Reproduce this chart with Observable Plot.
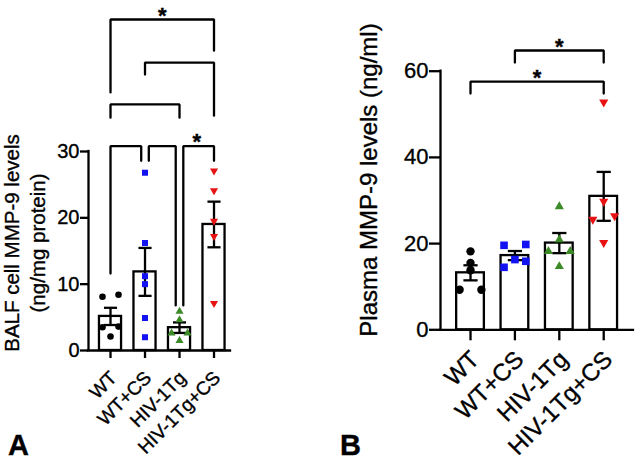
<!DOCTYPE html>
<html><head><meta charset="utf-8">
<script src="https://cdn.jsdelivr.net/npm/d3@7"></script>
<script src="https://cdn.jsdelivr.net/npm/@observablehq/plot@0.6"></script>
<style>
html,body{margin:0;padding:0;background:#fff;}
#wrap{position:relative;width:637px;height:463px;overflow:hidden;}
#wrap svg{position:absolute;top:0;}
#wrap svg text{stroke:black;stroke-width:0.35px;}
</style></head><body><div id="wrap"></div>
<script>
// ---------- data ----------
const groups = ["WT", "WT+CS", "HIV-1Tg", "HIV-1Tg+CS"];
const groupColors = ["#000000", "#1212f2", "#3d8b28", "#e81212"];

const balfWT     = [8.4, 8.1, 3.6, 3.5, 2.1];
const balfWTCS   = [26.8, 16.2, 11.2, 10.0, 4.9, 2.0];
const balfTg     = [5.9, 4.6, 2.6, 2.6, 1.5];
const balfTgCS   = [27.1, 24.1, 19.5, 17.2, 7.1];

const plasmaWT   = [18.2, 15.5, 13.8, 9.3, 9.3];
const plasmaWTCS = [19.8, 19.6, 16.3, 15.9, 14.5];
const plasmaTg   = [28.6, 20.9, 18.2, 18.2, 14.7];
const plasmaTgCS = [52.8, 29.8, 26.4, 25.6, 20.2];

const balfTicks   = [0, 10, 20, 30];
const plasmaTicks = [0, 20, 40, 60];

// significance brackets (values in data units of each panel)
const balfBrackets = [
  {from: "WT",      to: "HIV-1Tg+CS", level: 49.9, endFrom: 38.9, endTo: 45.2, label: "*"},
  {from: "WT+CS",   to: "HIV-1Tg+CS", level: 43.4, endFrom: 41.6, endTo: 35.4, label: ""},
  {from: "WT",      to: "HIV-1Tg",    level: 37.1, endFrom: 35.1, endTo: 35.1, label: ""},
  {from: "WT",      to: "WT+CS",      level: 30.8, endFrom: 11.6, endTo: 28.6, label: ""},
  {from: "WT+CS",   to: "HIV-1Tg",    level: 30.8, endFrom: 28.6, endTo: 6.8,  label: ""},
  {from: "HIV-1Tg", to: "HIV-1Tg+CS", level: 30.8, endFrom: 6.8,  endTo: 28.6, label: "*"}
];
const plasmaBrackets = [
  {from: "WT+CS", to: "HIV-1Tg+CS", level: 64.8, endFrom: 62.0, endTo: 62.0, label: "*"},
  {from: "WT",    to: "HIV-1Tg+CS", level: 57.6, endFrom: 54.8, endTo: 54.8, label: "*"}
];

// ---------- drawing ----------
const FONT = "'Liberation Sans', Arial, Helvetica, sans-serif";
const downTriangle = {
  draw(context, size) {
    const y = -Math.sqrt(size / (Math.sqrt(3) * 3));
    context.moveTo(0, -y * 2);
    context.lineTo(-Math.sqrt(3) * y, y);
    context.lineTo(Math.sqrt(3) * y, y);
    context.closePath();
  }
};
const groupSymbols = ["circle", "square", "triangle", downTriangle];

function panel(cfg) {
  const sw = cfg.sw;
  const pxPerUnit = (cfg.height - cfg.mt - cfg.mb) / cfg.ymax;
  const idx = g => groups.indexOf(g);
  const pts = [];
  const pattern = {1: [0], 2: [1, -1], 3: [0, 1, -1]};
  const summary = groups.map((g, i) => {
    const v = cfg.values[i];
    const sorted = v.slice().sort((a, b) => b - a);
    const clusters = [];
    for (const y of sorted) {
      const last = clusters[clusters.length - 1];
      if (last && (last[last.length - 1] - y) * pxPerUnit < 7) last.push(y);
      else clusters.push([y]);
    }
    for (const c of clusters) {
      const pat = pattern[c.length] || c.map((_, j) => (j % 2 ? -1 : 1) * Math.ceil(j / 2));
      c.forEach((y, j) => pts.push({i, x: i + pat[j] * cfg.spread, y}));
    }
    return {group: g, i, mean: d3.mean(v), sem: d3.deviation(v) / Math.sqrt(v.length)};
  });

  const bpts = [];
  cfg.brackets.forEach((b, k) => {
    const shL = cfg.brackets.some(o => o !== b && o.level === b.level && o.to === b.from) ? cfg.legShift : 0;
    const shR = cfg.brackets.some(o => o !== b && o.level === b.level && o.from === b.to) ? cfg.legShift : 0;
    const xl = idx(b.from) + shL, xr = idx(b.to) - shR;
    bpts.push({k, x: xl, y: b.endFrom}, {k, x: xl, y: b.level}, {k, x: xr, y: b.level}, {k, x: xr, y: b.endTo});
  });

  const svg = Plot.plot({
    width: cfg.width, height: cfg.height,
    marginLeft: cfg.ml, marginRight: cfg.mr, marginTop: cfg.mt, marginBottom: cfg.mb,
    x: {domain: cfg.xdom},
    y: {domain: [0, cfg.ymax]},
    style: {fontFamily: FONT, fontSize: cfg.tickFont + "px", color: "black", background: "transparent", overflow: "visible"},
    marks: [
      Plot.rectY(summary, {x1: d => d.i - cfg.barHalf, x2: d => d.i + cfg.barHalf, y1: 0, y2: "mean",
        fill: "white", stroke: "black", strokeWidth: sw}),
      Plot.link(summary, {x1: "i", x2: "i", y1: d => d.mean - d.sem, y2: d => d.mean + d.sem, stroke: "black", strokeWidth: sw}),
      Plot.link(summary, {x1: d => d.i - cfg.cap, x2: d => d.i + cfg.cap, y1: d => d.mean + d.sem, y2: d => d.mean + d.sem, stroke: "black", strokeWidth: sw}),
      Plot.link(summary, {x1: d => d.i - cfg.cap, x2: d => d.i + cfg.cap, y1: d => d.mean - d.sem, y2: d => d.mean - d.sem, stroke: "black", strokeWidth: sw}),
      ...groups.map((g, i) => Plot.dot(pts.filter(p => p.i === i), {x: "x", y: "y", symbol: groupSymbols[i],
        r: cfg.r[i], fill: groupColors[i], stroke: null})),
      Plot.line(bpts, {x: "x", y: "y", z: "k", stroke: "black", strokeWidth: sw, strokeLinejoin: "miter"}),
      Plot.text(cfg.brackets.filter(b => b.label), {x: b => (idx(b.from) + idx(b.to)) / 2, y: "level", text: "label",
        fontSize: cfg.starFont, fontWeight: "bold", dy: cfg.starDy}),
      Plot.ruleY([0], {stroke: "black", strokeWidth: sw, strokeLinecap: "square"}),
      Plot.ruleX([cfg.xdom[0]], {y1: 0, y2: cfg.ymax, stroke: "black", strokeWidth: sw, strokeLinecap: "square"}),
      Plot.axisY({ticks: cfg.ticks, tickSize: cfg.tickSize, tickPadding: 1, strokeWidth: sw, fontSize: cfg.tickFont, label: null}),
      Plot.axisX({ticks: [0, 1, 2, 3], tickFormat: () => "", tickSize: cfg.tickSize, strokeWidth: sw, label: null}),
      Plot.text(groups, {x: (d, i) => i, frameAnchor: "bottom", text: d => d, rotate: -45,
        textAnchor: "end", lineAnchor: "top", fontSize: cfg.xFont, dx: cfg.labDx, dy: cfg.labDy})
    ]
  });
  svg.style.left = cfg.left + "px";
  return svg;
}

const wrap = document.getElementById("wrap");

const svgA = panel({
  left: 0, width: 320, height: 463, ml: 88, mr: 90, mt: 151, mb: 113,
  xdom: [-0.638, 3.478], ymax: 30, ticks: balfTicks,
  values: [balfWT, balfWTCS, balfTg, balfTgCS], brackets: balfBrackets,
  sw: 2.3, barHalf: 0.32, cap: 0.19, spread: 0.232, legShift: 0.11,
  r: [3.3, 3.4, 3.0, 3.0], tickSize: 8, tickFont: 20, xFont: 19, starFont: 22, starDy: -4,
  labDx: -2, labDy: 19
});
const svgB = panel({
  left: 320, width: 317, height: 463, ml: 120, mr: 4, mt: 70.7, mb: 133.7,
  xdom: [-0.676, 3.671], ymax: 60, ticks: plasmaTicks,
  values: [plasmaWT, plasmaWTCS, plasmaTg, plasmaTgCS], brackets: plasmaBrackets,
  sw: 2.3, barHalf: 0.312, cap: 0.16, spread: 0.245, legShift: 0.1,
  r: [4.2, 4.3, 3.4, 3.4], tickSize: 11, tickFont: 22, xFont: 24, starFont: 22, starDy: -4,
  labDx: -2, labDy: 19
});
wrap.appendChild(svgA);
wrap.appendChild(svgB);

// axis titles and panel letters
const tA = d3.select(svgA).append("text")
  .attr("transform", "translate(0,243) rotate(-90)")
  .attr("text-anchor", "middle").attr("font-family", FONT).attr("font-size", 20.5).attr("fill", "black");
tA.append("tspan").attr("x", 0).attr("y", 19).text("BALF cell MMP-9 levels");
tA.append("tspan").attr("x", 0).attr("y", 45).text("(ng/mg protein)");

d3.select(svgB).append("text")
  .attr("transform", "translate(57,180) rotate(-90)")
  .attr("text-anchor", "middle").attr("font-family", FONT).attr("font-size", 24).attr("fill", "black")
  .text("Plasma MMP-9 levels (ng/ml)");

d3.select(svgA).append("text").attr("x", 8).attr("y", 455).attr("text-anchor", "start")
  .attr("font-family", FONT).attr("font-size", 29).attr("font-weight", "bold").text("A");
d3.select(svgB).append("text").attr("x", 20).attr("y", 455).attr("text-anchor", "start")
  .attr("font-family", FONT).attr("font-size", 29).attr("font-weight", "bold").text("B");
</script>
</body></html>
